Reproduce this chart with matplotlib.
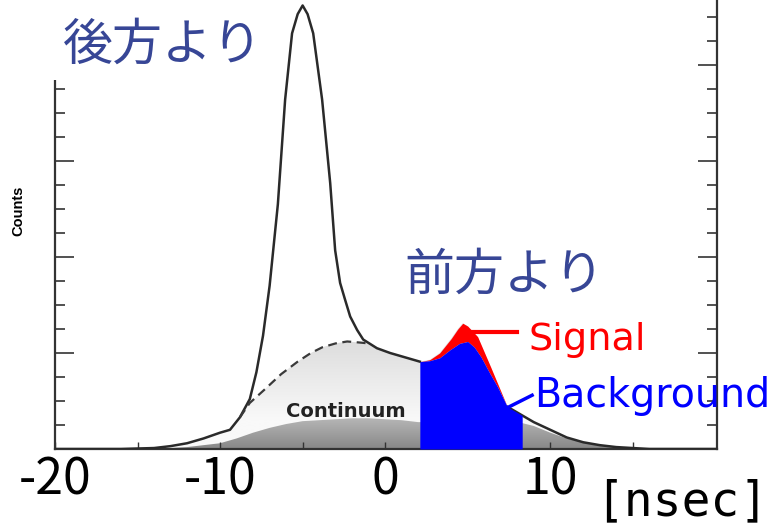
import numpy as np
import matplotlib
matplotlib.use("Agg")
import matplotlib.pyplot as plt
from matplotlib.patches import Rectangle
from matplotlib.colors import LinearSegmentedColormap

# ---------------- data ----------------
x_total = [-20, -16, -15, -14, -13, -12, -11, -10, -9.4, -8.8, -8.2, -7.8, -7.4, -7.0,
           -6.5, -6.06, -5.64, -5.3, -5.0, -4.7, -4.36, -3.82, -3.33, -3.03, -2.73,
           -2.42, -2.12, -1.7, -1.33, -0.5, 0.3, 0.9, 1.5, 2.1, 2.7, 3.3, 4.0, 4.4,
           4.7, 5.0, 5.6, 6.4, 7.4, 8.2, 9.0, 10, 11, 12, 13, 14, 15, 16, 20]
y_total = [0, 0, 0.5, 1, 3, 6, 11, 17, 20, 33, 52, 80, 118, 170,
           255, 364, 433, 453, 462, 453, 433, 364, 277, 207, 173,
           155, 138, 124, 114, 105, 100, 97, 94, 91, 93, 100, 115, 125,
           131, 128, 117, 85, 44, 36, 28, 20, 12, 7, 4, 2, 1, 0, 0]

# continuum (dashed) where it departs from the total curve
x_cont = [-8.8, -8.2, -7.3, -6.3, -5.3, -4.5, -3.8, -3.0, -2.3, -1.6, -1.0]
y_cont = [33, 48, 62, 78, 91, 100, 106, 110, 112, 111, 110]

# darker inner continuum component
x_dark = [-14, -12, -10, -9, -8, -7, -6, -5, -4, -3, -2, -1, 0, 1, 2, 4, 6, 8.3,
          9, 10, 11, 12, 13, 14, 15, 16]
y_dark = [0, 2, 6, 11, 17, 22, 26, 29, 30, 31, 32, 32, 31, 30, 28, 28, 28, 27,
          24, 17, 11, 7, 4, 2, 1, 0]

# background under the forward-peak window
x_bg = [2.1, 2.7, 3.3, 3.9, 4.5, 5.0, 5.4, 5.8, 6.3, 6.8, 7.4, 8.3]
y_bg = [91, 92, 95, 103, 110, 112, 106, 96, 80, 65, 44, 35]

xtick_pos = [-20, -15, -10, -5, 0, 5, 10, 15]
xtick_lab = ["-20", "", "-10", "", "0", "", "10", ""]

# ---------------- figure ----------------
fig = plt.figure(figsize=(7.71, 5.26), dpi=100)
ax = fig.add_axes([55 / 771, 77 / 526, 662 / 771, 449 / 526])
YMAX = 449 / 0.96
XMIN, XMAX = -20, 20.1

xt = np.array(x_total, float)
yt = np.array(y_total, float)


def grad_fill(x, y, c_bottom, c_top, y0, y1, z):
    poly = ax.fill_between(x, 0, y, facecolor="none", edgecolor="none", zorder=z)
    cmap = LinearSegmentedColormap.from_list("g", [c_bottom, c_top])
    yy = np.linspace(0, YMAX, 600)
    g = np.clip((yy - y0) / (y1 - y0), 0, 1).reshape(-1, 1)
    im = ax.imshow(g, extent=[XMIN, XMAX, 0, YMAX], origin="lower", aspect="auto",
                   cmap=cmap, vmin=0, vmax=1, zorder=z, interpolation="bilinear")
    im.set_clip_path(poly.get_paths()[0], transform=ax.transData)


# light continuum region
xg = np.union1d(xt, x_cont)
light_top = np.interp(xg, xt, yt)
m = (xg >= x_cont[0]) & (xg <= x_cont[-1])
light_top[m] = np.interp(xg[m], x_cont, y_cont)
grad_fill(xg, light_top, "#f9f9f9", "#dcdcdc", 30, 115, 1.0)

# dark continuum region
xd = np.array(x_dark, float)
yd = np.minimum(np.array(y_dark, float), np.interp(xd, xt, yt))
grad_fill(xd, yd, "#888888", "#b6b6b6", 0, 32, 1.1)

# signal (red) and background (blue) in the window
xw = np.union1d(x_bg, xt[(xt >= x_bg[0]) & (xt <= x_bg[-1])])
top_w = np.interp(xw, xt, yt)
bot_w = np.minimum(np.interp(xw, x_bg, y_bg), top_w)
ax.fill_between(xw, bot_w, top_w, color="#ff0000", lw=0, zorder=3.0)
ax.fill_between(x_bg, 0, y_bg, color="#0000ff", lw=0, zorder=3.1)

# total curve (hidden under the red top)
y_line = yt.copy()
y_line[(xt > 2.2) & (xt < 7.3)] = np.nan
ax.plot(xt, y_line, color="#2a2a2a", lw=1.8, zorder=2.8, solid_joinstyle="round")
# continuum dashed
ax.plot(x_cont, y_cont, color="#3a3a3a", lw=1.6, ls=(0, (4, 2.5)), zorder=2.8)

ax.set_xlim(XMIN, XMAX)
ax.set_ylim(0, YMAX)

# axes style
for s in ["left", "right", "bottom"]:
    ax.spines[s].set_color("#333333")
    ax.spines[s].set_linewidth(1.6)
ax.spines["top"].set_visible(False)

ax.set_xticks(xtick_pos)
ax.set_xticklabels(xtick_lab)
ax.tick_params(axis="x", direction="in", length=5, width=1, color="#333333",
               labelsize=36, pad=4, top=False)
for lab in ax.get_xticklabels():
    lab.set_fontfamily("Noto Sans CJK JP")
ax.set_yticks(np.arange(0, YMAX, 100))
ax.set_yticks(np.arange(0, YMAX, 25), minor=True)
ax.tick_params(axis="y", which="major", direction="in", length=14, width=1.2,
               color="#333333", left=True, right=True, labelleft=False)
ax.tick_params(axis="y", which="minor", direction="in", length=7, width=1.2,
               color="#333333", left=True, right=True)

# white box hiding upper part of left spine
ax.add_patch(Rectangle((-0.1, (449 - 80) / 449), 0.1 + (262 - 55) / 662, 1,
                       transform=ax.transAxes, facecolor="white", edgecolor="none",
                       clip_on=False, zorder=2.9))

jp_color = "#374696"
ax.text(-19.5, 406, "後方より", fontsize=36, color=jp_color,
        family="Noto Sans CJK JP", va="baseline", ha="left", zorder=5)
ax.text(1.15, 166, "前方より", fontsize=36, color=jp_color,
        family="Noto Sans CJK JP", va="baseline", ha="left", zorder=5)

ax.text(-6.0, 33, "Continuum", fontsize=14, fontweight="bold", color="#222222",
        va="baseline", ha="left", zorder=5)

ax.plot([5.33, 8.0], [122, 122], color="#ff0000", lw=3, zorder=5, clip_on=False)
ax.text(8.67, 103, "Signal", fontsize=27.5, color="#ff0000", va="baseline",
        ha="left", zorder=5, clip_on=False)
ax.plot([7.4, 8.9], [43, 56], color="#0000ff", lw=2.5, zorder=5, clip_on=False)
ax.text(9.05, 44, "Background", fontsize=28.5, color="#0000ff", va="baseline",
        ha="left", zorder=5, clip_on=False)

fig.text(595 / 771, 1 - 515 / 526, "[nsec]", fontsize=34.5, family="DejaVu Sans Mono",
         ha="left", va="baseline", color="black")
fig.text(18 / 771, 1 - 211 / 526, "Counts", rotation=90, fontsize=10.5,
         fontweight="bold", family="Liberation Sans", ha="center", va="center")

fig.savefig("out.png", dpi=100, facecolor="white")
